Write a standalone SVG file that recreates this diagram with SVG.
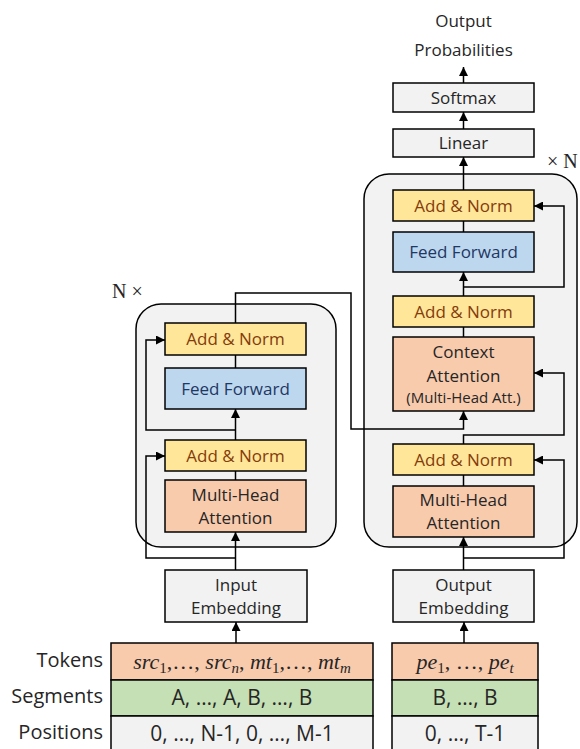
<svg xmlns="http://www.w3.org/2000/svg" width="580" height="749" viewBox="0 0 580 749">
<style>
.t{font-family:"Open Sans","Noto Sans",sans-serif;font-size:17px;fill:#262626;text-anchor:middle}
.an{fill:#FFE699;stroke:#000;stroke-width:1.5}
.ff{fill:#BDD7EE;stroke:#000;stroke-width:1.5}
.mh{fill:#F8CBAD;stroke:#000;stroke-width:1.5}
.gr{fill:#F2F2F2;stroke:#000;stroke-width:1.5}
.sg{fill:#C5E0B4;stroke:#000;stroke-width:1.5}
.blk{fill:#F2F2F2;stroke:#000;stroke-width:1.5}
.brown{fill:#843C0C}
.blue{fill:#1F3864}
.lbl{font-family:"Open Sans","Noto Sans",sans-serif;font-size:20px;fill:#262626;text-anchor:end}
.row{font-family:"Open Sans","Noto Sans",sans-serif;font-size:21px;fill:#262626;text-anchor:middle}
.math{font-family:"Liberation Serif",serif;font-size:22px;font-style:italic;fill:#262626;text-anchor:middle}
.up{font-style:normal}
.sub{font-size:15px}
.ser{font-family:"Liberation Serif",serif;font-size:20px;fill:#262626}
.c{fill:none;stroke:#000;stroke-width:1.5}
.a{marker-end:url(#ah)}
</style>
<defs>
<marker id="ah" viewBox="0 0 10 10" refX="10" refY="5" markerWidth="9" markerHeight="9" markerUnits="userSpaceOnUse" orient="auto">
<path d="M0,0 L10,5 L0,10 z" fill="#000"/>
</marker>
</defs>

<g id="encoder-block">
<rect class="blk" x="136" y="304" width="200" height="243" rx="25"/>
<text class="ser" x="112" y="298">N ×</text>
</g>
<g id="decoder-block">
<rect class="blk" x="364" y="174" width="213" height="373" rx="25"/>
<text class="ser" x="547" y="168">× N</text>
</g>

<g id="connectors">
<path class="c a" d="M236,643 V622"/>
<path class="c a" d="M235.5,570 V532"/>
<path class="c a" d="M235.5,558 H146 V456 H165"/>
<path class="c" d="M235.5,480 V471"/>
<path class="c a" d="M235.5,440 V409"/>
<path class="c a" d="M235.5,430 H146 V340 H165"/>
<path class="c" d="M235.5,368 V355"/>
<path class="c a" d="M235.5,323 V293 H351 V429 H463.5 V411"/>
<path class="c a" d="M464,643 V622"/>
<path class="c a" d="M463.5,570 V537"/>
<path class="c a" d="M463.5,558 H564 V460 H534"/>
<path class="c" d="M463.5,486 V475"/>
<path class="c a" d="M463.5,444 V435 H564 V373 H534"/>
<path class="c" d="M463.5,337 V327"/>
<path class="c a" d="M463.5,296 V272"/>
<path class="c a" d="M463.5,287 H564 V206 H534"/>
<path class="c" d="M463.5,232 V221"/>
<path class="c a" d="M463.5,190 V157"/>
<path class="c a" d="M463.5,129 V112"/>
<path class="c a" d="M463.5,83 V67"/>
</g>

<g id="output-probabilities">
<text class="t" x="463.5" y="27">Output</text>
<text class="t" x="463.5" y="56">Probabilities</text>
</g>
<g id="softmax">
<rect class="gr" x="393" y="83" width="141" height="29"/>
<text class="t" x="463.5" y="103.5">Softmax</text>
</g>
<g id="linear">
<rect class="gr" x="393" y="129" width="141" height="28"/>
<text class="t" x="463.5" y="149">Linear</text>
</g>

<g id="dec-addnorm-3">
<rect class="an" x="393" y="190" width="141" height="31"/>
<text class="t brown" x="463.5" y="211.5">Add &amp; Norm</text>
</g>
<g id="dec-feedforward">
<rect class="ff" x="393" y="232" width="141" height="40"/>
<text class="t blue" x="463.5" y="258">Feed Forward</text>
</g>
<g id="dec-addnorm-2">
<rect class="an" x="393" y="296" width="141" height="31"/>
<text class="t brown" x="463.5" y="317.5">Add &amp; Norm</text>
</g>
<g id="dec-context-attention">
<rect class="mh" x="393" y="337" width="141" height="74"/>
<text class="t" x="463.5" y="358">Context</text>
<text class="t" x="463.5" y="382">Attention</text>
<text class="t" x="463.5" y="403" style="font-size:15px">(Multi-Head Att.)</text>
</g>
<g id="dec-addnorm-1">
<rect class="an" x="393" y="444" width="141" height="31"/>
<text class="t brown" x="463.5" y="465.5">Add &amp; Norm</text>
</g>
<g id="dec-multihead">
<rect class="mh" x="393" y="486" width="141" height="51"/>
<text class="t" x="463.5" y="506">Multi-Head</text>
<text class="t" x="463.5" y="529">Attention</text>
</g>

<g id="enc-addnorm-2">
<rect class="an" x="165" y="323" width="141" height="32"/>
<text class="t brown" x="235.5" y="345">Add &amp; Norm</text>
</g>
<g id="enc-feedforward">
<rect class="ff" x="165" y="368" width="141" height="41"/>
<text class="t blue" x="235.5" y="394.5">Feed Forward</text>
</g>
<g id="enc-addnorm-1">
<rect class="an" x="165" y="440" width="141" height="31"/>
<text class="t brown" x="235.5" y="461.5">Add &amp; Norm</text>
</g>
<g id="enc-multihead">
<rect class="mh" x="165" y="480" width="141" height="52"/>
<text class="t" x="235.5" y="500.5">Multi-Head</text>
<text class="t" x="235.5" y="524">Attention</text>
</g>

<g id="input-embedding">
<rect class="gr" x="165" y="570" width="142" height="52"/>
<text class="t" x="236" y="591">Input</text>
<text class="t" x="236" y="614">Embedding</text>
</g>
<g id="output-embedding">
<rect class="gr" x="393" y="570" width="141" height="52"/>
<text class="t" x="463.5" y="591">Output</text>
<text class="t" x="463.5" y="614">Embedding</text>
</g>

<g id="row-labels">
<text class="lbl" x="103" y="667">Tokens</text>
<text class="lbl" x="103" y="703">Segments</text>
<text class="lbl" x="103" y="739">Positions</text>
</g>

<g id="input-table">
<rect class="mh" x="111" y="643" width="262" height="37"/>
<rect class="sg" x="111" y="680" width="262" height="36"/>
<rect class="gr" x="111" y="716" width="262" height="36"/>
<text class="math" x="242" y="669">src<tspan class="sub up" dy="4">1</tspan><tspan class="up" dy="-4">,…, </tspan>src<tspan class="sub" dy="4">n</tspan><tspan class="up" dy="-4">, </tspan>mt<tspan class="sub up" dy="4">1</tspan><tspan class="up" dy="-4">,…, </tspan>mt<tspan class="sub" dy="4">m</tspan></text>
<text class="row" x="242" y="705">A, …, A, B, …, B</text>
<text class="row" x="242" y="741">0, …, N-1, 0, …, M-1</text>
</g>

<g id="output-table">
<rect class="mh" x="392" y="643" width="146" height="37"/>
<rect class="sg" x="392" y="680" width="146" height="36"/>
<rect class="gr" x="392" y="716" width="146" height="36"/>
<text class="math" x="465" y="669">pe<tspan class="sub up" dy="4">1</tspan><tspan class="up" dy="-4">, …, </tspan>pe<tspan class="sub" dy="4">t</tspan></text>
<text class="row" x="465" y="705">B, …, B</text>
<text class="row" x="465" y="741">0, …, T-1</text>
</g>
</svg>
